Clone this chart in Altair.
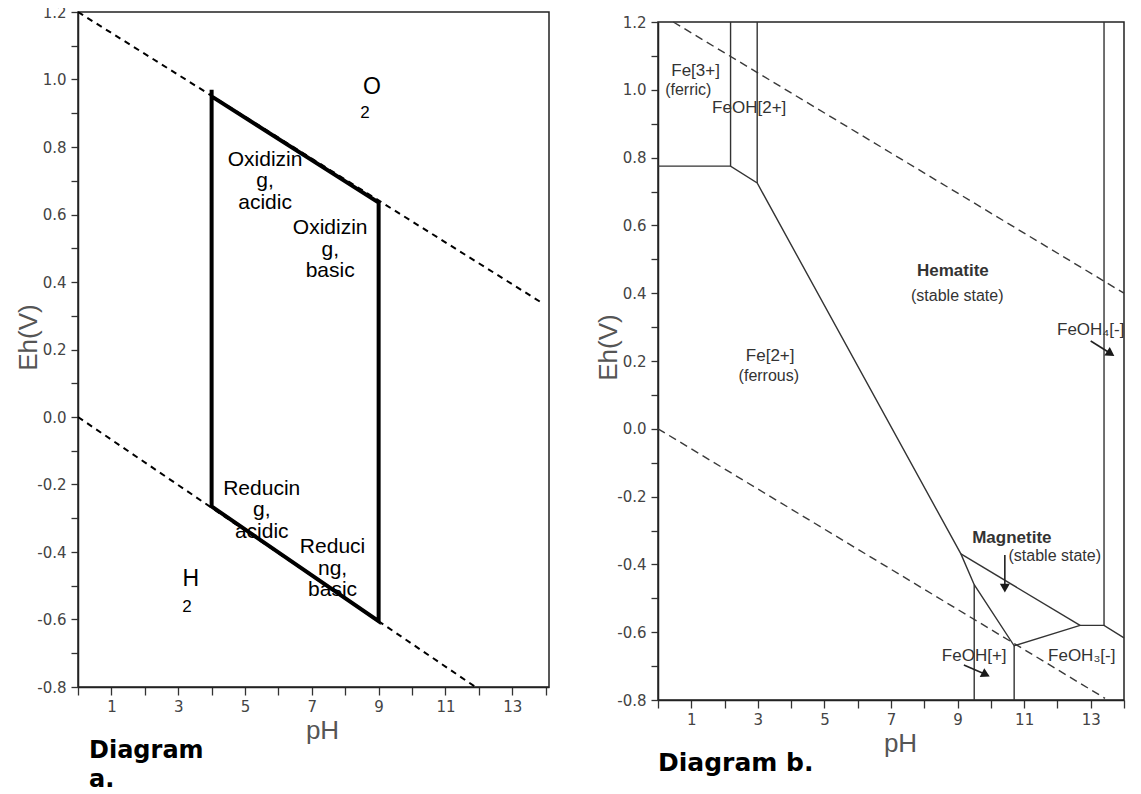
import altair as alt
import pandas as pd

FONT = "Liberation Sans, Arial, Helvetica, sans-serif"
TICKFONT = "DejaVu Sans, Verdana, sans-serif"
CAPFONT = "DejaVu Sans, Verdana, sans-serif"

# ---------------- shared ticks ----------------
ph_ticks = [0, 1, 2, 3, 4, 5, 6, 7, 8, 9, 10, 11, 12, 13, 14]
eh_ticks = [-0.8, -0.7, -0.6, -0.5, -0.4, -0.3, -0.2, -0.1, 0.0, 0.1, 0.2,
            0.3, 0.4, 0.5, 0.6, 0.7, 0.8, 0.9, 1.0, 1.1, 1.2]

# ---------------- Diagram a ----------------
a_upper_ph = [0.0, 13.86]
a_upper_eh = [1.2, 0.34]
a_lower_ph = [0.0, 11.9]
a_lower_eh = [0.0, -0.8]

a_box_ph = [4.0, 4.0, 9.0, 9.0, 4.0]
a_box_eh = [0.97, -0.265, -0.605, 0.635, 0.95]

a_zone_text = ["Oxidizin\ng,\nacidic", "Oxidizin\ng,\nbasic",
               "Reducin\ng,\nacidic", "Reduci\nng,\nbasic"]
a_zone_ph = [5.6, 7.55, 5.5, 7.62]
a_zone_eh = [0.744, 0.542, -0.231, -0.403]

a_gas_text = ["O", "H"]
a_gas_ph = [8.8, 3.38]
a_gas_eh = [0.957, -0.501]
a_sub_text = ["2", "2"]
a_sub_ph = [8.59, 3.26]
a_sub_eh = [0.886, -0.578]

a_caption = ["Diagram\na."]
a_caption_ph = [0.33]
a_caption_eh = [-1.01]

# ---------------- Diagram b ----------------
b_water_line = ["O2", "O2", "H2", "H2"]
b_water_ph = [0.46, 14.0, 0.0, 13.43]
b_water_eh = [1.2, 0.4, 0.0, -0.795]

b_seg_id = ([1] * 9 + [2, 2] + [3, 3] + [4, 4] + [5, 5] + [6, 6] + [7, 7])
b_seg_ph = [0.0, 2.18, 2.98, 9.1, 9.5, 10.7, 12.68, 13.4, 14.0,
            2.18, 2.18,
            2.98, 2.98,
            9.1, 12.68,
            9.5, 9.5,
            10.7, 10.7,
            13.4, 13.4]
b_seg_eh = [0.775, 0.775, 0.725, -0.369, -0.46, -0.64, -0.58, -0.58, -0.617,
            0.775, 1.2,
            0.725, 1.2,
            -0.369, -0.58,
            -0.46, -0.8,
            -0.64, -0.8,
            -0.58, 1.2]

b_name_text = ["Fe[3+]", "FeOH[2+]", "FeOH\u2084[-]", "Fe[2+]", "FeOH[+]", "FeOH\u2083[-]"]
b_name_ph = [1.13, 2.74, 13.0, 3.37, 9.5, 12.73]
b_name_eh = [1.055, 0.946, 0.291, 0.215, -0.67, -0.67]

b_note_text = ["(ferric)", "(stable state)", "(ferrous)", "(stable state)"]
b_note_ph = [0.91, 8.99, 3.33, 11.92]
b_note_eh = [0.999, 0.392, 0.156, -0.375]

b_bold_text = ["Hematite", "Magnetite"]
b_bold_ph = [8.86, 10.63]
b_bold_eh = [0.465, -0.322]

b_arrow_ph = [13.0, 10.42, 9.19]
b_arrow_eh = [0.259, -0.372, -0.697]
b_arrow_ph2 = [13.6, 10.42, 9.85]
b_arrow_eh2 = [0.222, -0.47, -0.725]
b_arrow_angle = [123, 180, 117]

b_caption = ["Diagram b."]
b_caption_ph = [0.0]
b_caption_eh = [-1.009]


def x_axis(title_x):
    return alt.Axis(values=ph_ticks, format="d",
                    labelExpr="datum.value % 2 == 1 ? datum.label : ''",
                    title="pH", grid=False, labelOverlap=False, labelFlush=False,
                    tickSize=8, tickWidth=1.3, tickColor="#333",
                    domainColor="#222", domainWidth=1.5,
                    labelFont=TICKFONT, labelFontSize=15, labelColor="#444", labelPadding=4,
                    titleFont=FONT, titleFontSize=26, titleFontWeight="normal",
                    titleColor="#555", titlePadding=3, titleX=title_x)


def y_axis():
    return alt.Axis(values=eh_ticks, format=".1f",
                    labelExpr="round(datum.value * 10) % 2 == 0 ? replace(datum.label, '\u2212', '-') : ''",
                    title="Eh(V)", grid=False, labelOverlap=False,
                    tickSize=7, tickWidth=1.3, tickColor="#333",
                    domainColor="#222", domainWidth=1.5,
                    labelFont=TICKFONT, labelFontSize=15, labelColor="#444", labelPadding=5,
                    titleFont=FONT, titleFontSize=26, titleFontWeight="normal",
                    titleColor="#555", titleX=-37, titleY=325)


def enc(xdom, title_x):
    x = alt.X("ph:Q", scale=alt.Scale(domain=xdom, nice=False, zero=False), axis=x_axis(title_x))
    y = alt.Y("eh:Q", scale=alt.Scale(domain=[-0.8, 1.2], nice=False, zero=False), axis=y_axis())
    return x, y


# ---------- build Diagram a ----------
ax, ay = enc([0, 14.1], 244)

a_water_df = pd.DataFrame({
    "line": ["up", "up", "low", "low"],
    "ph": a_upper_ph + a_lower_ph,
    "eh": a_upper_eh + a_lower_eh,
    "ord": [0, 1, 0, 1],
})
a_box_df = pd.DataFrame({"ph": a_box_ph, "eh": a_box_eh, "ord": list(range(len(a_box_ph)))})
a_zone_df = pd.DataFrame({"label": a_zone_text, "ph": a_zone_ph, "eh": a_zone_eh})
a_gas_df = pd.DataFrame({"label": a_gas_text, "ph": a_gas_ph, "eh": a_gas_eh})
a_sub_df = pd.DataFrame({"label": a_sub_text, "ph": a_sub_ph, "eh": a_sub_eh})
a_cap_df = pd.DataFrame({"label": a_caption, "ph": a_caption_ph, "eh": a_caption_eh})

a_water = alt.Chart(a_water_df).mark_line(
    color="black", strokeWidth=2, strokeDash=[6, 5]
).encode(x=ax, y=ay, detail="line:N", order="ord:Q")

a_box = alt.Chart(a_box_df).mark_line(
    color="black", strokeWidth=4, strokeJoin="miter"
).encode(x=ax, y=ay, order="ord:Q")

a_zone = alt.Chart(a_zone_df).mark_text(
    font=FONT, fontSize=21, align="center", baseline="alphabetic",
    lineBreak="\n", lineHeight=21.5, color="black"
).encode(x=ax, y=ay, text="label:N")

a_gas = alt.Chart(a_gas_df).mark_text(
    font=FONT, fontSize=23, align="center", baseline="alphabetic", color="black"
).encode(x=ax, y=ay, text="label:N")

a_sub = alt.Chart(a_sub_df).mark_text(
    font=FONT, fontSize=17, align="center", baseline="alphabetic", color="black"
).encode(x=ax, y=ay, text="label:N")

a_cap = alt.Chart(a_cap_df).mark_text(
    font=CAPFONT, fontSize=24, fontWeight="bold", align="left", baseline="alphabetic",
    lineBreak="\n", lineHeight=29, color="black"
).encode(x=ax, y=ay, text="label:N")

chart_a = alt.layer(a_water, a_box, a_zone, a_gas, a_sub, a_cap).properties(
    width=471, height=675
)

# ---------- build Diagram b ----------
bx, by = enc([0, 14], 242)

b_water_df = pd.DataFrame({
    "line": b_water_line, "ph": b_water_ph, "eh": b_water_eh, "ord": [0, 1, 0, 1]
})
b_seg_df = pd.DataFrame({"seg": b_seg_id, "ph": b_seg_ph, "eh": b_seg_eh,
                         "ord": list(range(len(b_seg_id)))})
b_name_df = pd.DataFrame({"label": b_name_text, "ph": b_name_ph, "eh": b_name_eh})
b_note_df = pd.DataFrame({"label": b_note_text, "ph": b_note_ph, "eh": b_note_eh})
b_bold_df = pd.DataFrame({"label": b_bold_text, "ph": b_bold_ph, "eh": b_bold_eh})
b_arrow_df = pd.DataFrame({"ph": b_arrow_ph, "eh": b_arrow_eh,
                           "ph2": b_arrow_ph2, "eh2": b_arrow_eh2})
b_head_df = pd.DataFrame({"ph": b_arrow_ph2, "eh": b_arrow_eh2, "ang": b_arrow_angle})
b_cap_df = pd.DataFrame({"label": b_caption, "ph": b_caption_ph, "eh": b_caption_eh})

b_water = alt.Chart(b_water_df).mark_line(
    color="#3a3a3a", strokeWidth=1.4, strokeDash=[8, 5]
).encode(x=bx, y=by, detail="line:N", order="ord:Q")

b_seg = alt.Chart(b_seg_df).mark_line(
    color="#333", strokeWidth=1.4
).encode(x=bx, y=by, detail="seg:N", order="ord:Q")

b_name = alt.Chart(b_name_df).mark_text(
    font=FONT, fontSize=17, align="center", baseline="middle", color="#333"
).encode(x=bx, y=by, text="label:N")

b_note = alt.Chart(b_note_df).mark_text(
    font=FONT, fontSize=16, align="center", baseline="middle", color="#333"
).encode(x=bx, y=by, text="label:N")

b_bold = alt.Chart(b_bold_df).mark_text(
    font=FONT, fontSize=17, fontWeight="bold", align="center", baseline="middle", color="#333"
).encode(x=bx, y=by, text="label:N")

b_arrow = alt.Chart(b_arrow_df).mark_rule(color="#222", strokeWidth=1.6).encode(
    x=bx, y=by, x2="ph2:Q", y2="eh2:Q"
)

b_head = alt.Chart(b_head_df).mark_point(
    shape="triangle-up", filled=True, size=100, color="#1a1a1a", opacity=1
).encode(x=bx, y=by, angle=alt.Angle("ang:Q", scale=None))

b_cap = alt.Chart(b_cap_df).mark_text(
    font=CAPFONT, fontSize=25, fontWeight="bold", align="left", baseline="alphabetic",
    color="black"
).encode(x=bx, y=by, text="label:N")

chart_b = alt.layer(b_water, b_seg, b_arrow, b_head, b_name, b_note, b_bold, b_cap).properties(
    width=466, height=678
)

# thin invisible strip that lowers Diagram b a little, as in the original
spacer = alt.Chart(pd.DataFrame({"v": [0]})).mark_rule(opacity=0).encode(
    x=alt.value(0), x2=alt.value(1), y=alt.value(0)
).properties(width=1, height=1, view=alt.ViewBackground(stroke="transparent"))

right = alt.vconcat(spacer, chart_b, spacing=0)

chart = alt.hconcat(chart_a, right, spacing=44).resolve_scale(
    x="independent", y="independent"
).properties(
    padding={"left": 6, "top": -4, "right": 4, "bottom": 0}
).configure_view(
    stroke="#222", strokeWidth=1.5
)

chart.save("out.html", embed_options={"renderer": "svg", "actions": False})
